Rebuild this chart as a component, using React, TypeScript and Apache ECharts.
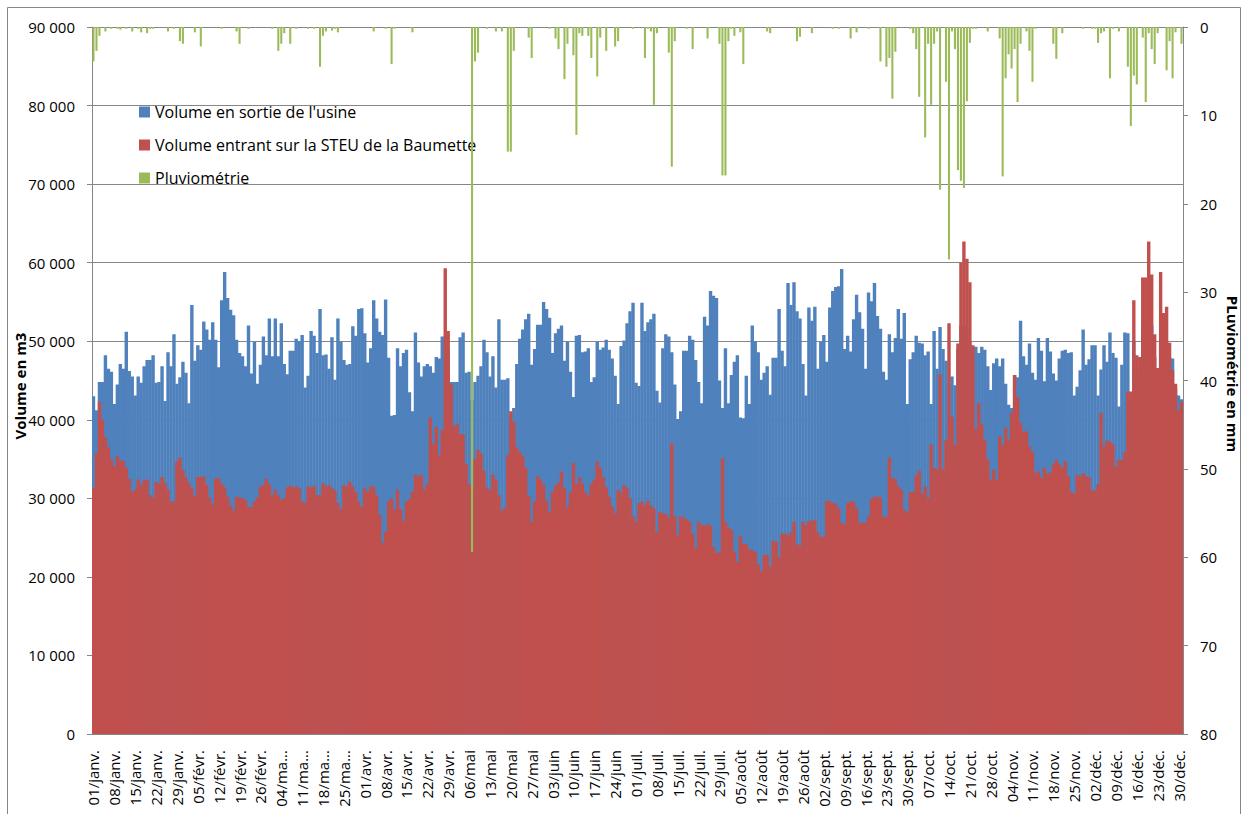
import React, { useEffect, useRef } from 'react';
import * as echarts from 'echarts';

const FONT = "'Open Sans', 'Liberation Sans', sans-serif";

// Year 2012 (leap year): one category per day
const monthNames = ['janv.', 'févr.', 'mars', 'avr.', 'mai', 'juin', 'juil.', 'août', 'sept.', 'oct.', 'nov.', 'déc.'];
const monthLengths = [31, 29, 31, 30, 31, 30, 31, 31, 30, 31, 30, 31];
const categories: string[] = [];
monthLengths.forEach((len, m) => {
  for (let d = 1; d <= len; d++) categories.push(`${String(d).padStart(2, '0')}/${monthNames[m]}`);
});

// Volume en sortie de l'usine (milliers de m3)
const sortieUsine = [
  43.0, 41.2, 44.8, 44.8, 48.2, 46.5, 46.1, 42.0, 44.5, 47.1,
  46.5, 51.2, 46.2, 45.5, 43.1, 45.5, 44.7, 46.8, 47.6, 47.6,
  48.2, 44.7, 44.8, 46.8, 42.4, 48.6, 46.8, 50.9, 44.6, 45.4,
  47.4, 46.0, 42.1, 54.6, 47.5, 49.5, 48.9, 52.5, 51.5, 50.2,
  52.4, 50.2, 46.7, 55.2, 58.8, 55.5, 54.0, 53.3, 50.2, 48.5,
  48.1, 46.8, 52.0, 45.9, 49.9, 44.6, 47.0, 50.6, 48.2, 52.9,
  48.1, 52.9, 48.1, 52.3, 47.1, 45.8, 48.8, 48.8, 50.3, 50.0,
  50.8, 44.1, 45.6, 51.3, 50.7, 48.5, 54.1, 48.2, 48.3, 46.5,
  50.5, 45.1, 52.9, 49.9, 47.6, 47.0, 47.1, 51.9, 50.7, 54.1,
  54.2, 51.0, 47.3, 49.1, 55.2, 52.9, 51.2, 50.8, 55.3, 47.9,
  40.5, 40.6, 49.1, 46.8, 48.5, 48.9, 43.5, 41.1, 51.1, 47.3,
  45.5, 46.8, 47.1, 46.8, 46.0, 48.0, 47.8, 50.6, 48.5, 48.9,
  44.8, 44.8, 44.8, 50.5, 51.1, 46.0, 46.1, 42.5, 44.8, 45.6,
  46.8, 50.2, 48.6, 45.5, 48.1, 44.1, 52.8, 45.1, 45.1, 45.3,
  40.4, 41.5, 47.1, 50.3, 51.5, 52.8, 53.5, 47.0, 49.0, 52.1,
  52.1, 55.0, 54.1, 53.0, 48.5, 51.0, 51.6, 52.0, 47.5, 49.9,
  46.1, 42.9, 50.7, 50.8, 48.6, 48.7, 49.1, 44.8, 45.4, 49.9,
  48.9, 49.2, 50.2, 48.9, 47.8, 45.6, 42.0, 49.4, 50.1, 52.3,
  53.8, 54.9, 44.7, 44.3, 54.9, 51.3, 52.4, 52.8, 53.5, 43.7,
  42.2, 49.1, 50.9, 50.6, 48.6, 44.5, 40.1, 41.1, 48.8, 48.8,
  50.7, 50.2, 47.6, 44.8, 42.1, 53.1, 52.0, 56.4, 55.8, 55.5,
  45.0, 41.5, 49.1, 42.1, 45.7, 47.4, 48.2, 40.3, 40.2, 45.6,
  42.0, 52.0, 50.0, 48.6, 45.1, 46.0, 46.8, 43.2, 47.9, 47.9,
  54.1, 48.8, 46.8, 57.4, 54.6, 57.5, 53.8, 52.9, 47.1, 43.1,
  54.3, 52.6, 54.4, 46.5, 49.9, 50.8, 47.4, 54.3, 56.4, 56.9,
  57.0, 59.2, 49.0, 50.7, 48.7, 52.8, 55.9, 53.7, 51.6, 46.5,
  56.2, 55.1, 57.4, 53.2, 51.6, 46.1, 45.1, 50.9, 48.6, 50.4,
  54.1, 50.3, 53.6, 42.0, 47.7, 48.6, 50.7, 49.8, 49.7, 48.2,
  48.7, 42.0, 51.3, 46.5, 51.8, 49.0, 47.5, 44.5, 45.5, 44.4,
  49.0, 52.0, 52.0, 52.0, 50.0, 49.3, 49.3, 48.5, 49.3, 48.9,
  46.8, 43.8, 47.2, 47.8, 46.8, 47.8, 44.6, 41.9, 41.5, 45.7,
  45.4, 52.6, 48.1, 47.0, 49.7, 46.0, 45.1, 50.4, 48.8, 44.9,
  50.4, 48.7, 45.9, 45.0, 47.8, 48.8, 48.9, 48.5, 48.6, 43.1,
  44.2, 46.3, 51.5, 47.0, 47.7, 49.5, 49.5, 43.1, 46.4, 49.5,
  47.4, 51.1, 48.5, 47.9, 41.7, 47.0, 51.1, 51.0, 42.0, 50.0,
  46.0, 46.0, 52.0, 52.0, 52.0, 52.0, 48.0, 45.0, 50.0, 50.0,
  50.0, 48.0, 47.8, 44.0, 43.1, 42.6,
];

// Volume entrant sur la STEU de la Baumette (milliers de m3)
const entrantSteu = [
  31.3, 35.7, 42.3, 40.0, 37.8, 36.5, 34.9, 34.1, 35.4, 34.8,
  34.8, 33.9, 32.5, 30.8, 31.1, 32.4, 31.7, 32.3, 32.4, 30.4,
  30.1, 32.1, 31.9, 32.7, 32.0, 31.1, 29.6, 29.6, 34.7, 35.2,
  33.6, 32.7, 32.0, 31.3, 30.3, 32.7, 32.7, 32.8, 31.7, 30.1,
  29.2, 32.5, 32.6, 31.9, 31.4, 30.2, 29.1, 28.4, 30.2, 30.1,
  30.0, 29.8, 28.9, 28.9, 29.6, 30.1, 31.5, 31.7, 32.5, 31.8,
  30.4, 31.1, 30.4, 29.8, 30.0, 31.4, 31.6, 31.4, 31.5, 31.3,
  29.6, 29.4, 31.5, 31.4, 31.6, 30.4, 30.4, 31.9, 31.5, 31.7,
  31.3, 31.0, 29.4, 28.6, 31.7, 31.5, 32.1, 31.5, 30.8, 29.6,
  28.9, 31.3, 30.8, 31.5, 31.5, 30.4, 27.9, 24.3, 25.7, 29.6,
  30.0, 28.5, 31.1, 28.6, 27.1, 29.6, 29.9, 30.8, 33.0, 32.8,
  33.0, 31.1, 31.9, 40.3, 36.9, 39.1, 35.5, 38.7, 59.3, 51.3,
  44.5, 39.1, 39.5, 38.2, 38.2, 34.4, 31.8, 31.3, 35.0, 36.2,
  35.7, 33.5, 31.4, 31.0, 33.0, 32.4, 30.4, 28.4, 28.8, 35.5,
  41.1, 39.7, 36.5, 35.9, 35.4, 33.9, 30.3, 27.0, 29.6, 32.8,
  32.4, 31.7, 29.7, 28.2, 30.8, 31.6, 32.0, 33.4, 31.3, 28.9,
  30.7, 34.5, 31.8, 32.7, 31.9, 30.8, 30.4, 31.8, 32.4, 34.7,
  33.9, 32.7, 31.4, 30.2, 29.0, 28.1, 31.1, 30.7, 31.7, 31.3,
  30.0, 27.7, 27.0, 29.4, 29.6, 29.1, 29.7, 29.1, 28.7, 25.7,
  28.3, 28.1, 28.0, 27.6, 37.0, 27.7, 25.3, 27.7, 27.6, 27.3,
  27.0, 25.5, 23.6, 27.0, 26.6, 26.5, 26.7, 26.5, 23.8, 23.0,
  23.1, 35.1, 27.0, 26.3, 26.0, 23.2, 21.9, 25.2, 24.2, 24.2,
  23.5, 23.4, 23.2, 21.6, 20.7, 22.8, 22.8, 21.3, 24.6, 24.5,
  22.5, 25.5, 25.5, 25.3, 25.7, 27.0, 24.2, 24.0, 27.0, 26.6,
  27.1, 27.2, 27.2, 25.7, 25.1, 25.1, 29.7, 29.6, 29.4, 29.3,
  28.7, 26.9, 26.7, 29.4, 29.6, 29.6, 28.7, 26.9, 26.9, 26.9,
  27.7, 29.9, 30.2, 30.2, 30.1, 27.6, 27.7, 35.2, 32.6, 32.5,
  31.5, 31.1, 28.5, 28.2, 30.8, 30.8, 32.9, 33.5, 30.6, 31.5,
  30.1, 36.9, 33.9, 33.7, 45.8, 33.7, 37.4, 52.3, 40.4, 36.8,
  49.7, 60.0, 62.7, 60.5, 57.5, 49.5, 38.8, 42.1, 39.5, 37.4,
  34.9, 32.4, 33.6, 32.3, 37.9, 36.8, 39.0, 37.4, 40.9, 45.7,
  42.9, 39.6, 38.5, 38.5, 36.6, 35.9, 33.2, 33.4, 32.6, 33.9,
  33.1, 33.3, 34.3, 34.9, 34.4, 33.9, 34.7, 32.8, 30.8, 30.6,
  33.0, 32.8, 33.2, 32.8, 32.7, 31.0, 31.0, 31.8, 40.9, 36.6,
  37.4, 37.2, 36.9, 34.0, 34.9, 34.9, 35.9, 43.6, 43.6, 55.2,
  48.2, 48.0, 58.1, 58.1, 62.7, 58.5, 50.9, 46.6, 58.8, 53.6,
  54.4, 49.8, 46.3, 44.6, 41.2, 42.3,
];

// Pluviométrie (mm)
const pluviometrie = [
  3.9, 2.7, 1.0, 0, 0.5, 0, 0.2, 0, 0.2, 0.3,
  0, 0.2, 0, 0.5, 0, 0.2, 0.6, 0, 0.7, 0.2,
  0.2, 0, 0, 0, 0, 0.5, 0, 0.2, 0, 1.6,
  1.9, 0, 0, 0, 0.6, 0, 2.2, 0, 0, 0,
  0, 0, 0, 0.2, 0, 0, 0, 0, 0.5, 1.9,
  0, 0, 0.2, 0, 0, 0, 0, 0, 0, 0,
  0.2, 0, 2.7, 1.9, 0.7, 0, 1.9, 0, 0.2, 0,
  0, 0, 0.2, 0, 0.2, 0, 4.5, 1.0, 0.5, 0,
  0.4, 0.2, 0.6, 0, 0, 0, 0, 0, 0, 0,
  0, 0, 0, 0, 0.5, 0, 0, 0, 0.2, 0,
  4.2, 0.2, 0, 0, 0, 0, 0, 0.6, 0, 0,
  0, 0, 0, 0, 0, 0, 0, 0, 0, 0,
  0, 0, 0, 0, 0, 0, 0, 59.4, 3.9, 2.9,
  0, 0, 0.2, 0, 0, 0.5, 0, 0.5, 0, 14.1,
  14.1, 2.7, 0, 0, 0, 0, 1.2, 3.5, 0, 0,
  0, 0, 0, 0.2, 0, 1.3, 2.5, 0, 5.9, 1.9,
  0, 3.2, 12.2, 0.7, 1.0, 0, 1.0, 3.5, 0, 5.6,
  1.2, 0, 2.7, 0, 0, 2.2, 1.6, 0, 0, 0,
  0, 0.2, 0, 0, 0, 3.5, 0.2, 0.5, 8.8, 0.7,
  0, 0, 0, 2.9, 15.8, 1.6, 0, 0, 0, 0.2,
  0, 2.5, 0, 0, 0, 0, 1.3, 0, 0, 0,
  1.9, 16.8, 16.8, 1.6, 0.2, 1.0, 0, 0.6, 4.2, 0,
  0, 0, 0, 0, 0, 0, 0.5, 0.7, 0, 0,
  0, 0, 0, 0, 0, 0, 1.6, 1.1, 0, 0,
  0, 0.7, 0, 0, 0, 0, 0, 0, 0.2, 0,
  0.2, 0, 0, 0, 1.3, 0, 0.6, 0, 0, 0,
  0.2, 0, 0, 0, 3.9, 0, 4.5, 3.5, 8.1, 2.8,
  0, 0, 0, 0, 0.2, 0.7, 2.5, 7.9, 0, 12.5,
  1.9, 8.8, 1.9, 0.5, 18.4, 0, 6.2, 26.3, 0.5, 2.5,
  16.2, 17.4, 18.2, 8.4, 1.8, 0.2, 0.2, 0, 0, 0,
  0.5, 0, 0, 0, 1.3, 16.9, 5.8, 3.1, 4.7, 2.5,
  8.5, 1.9, 0, 0.5, 2.7, 6.2, 0.2, 0, 0, 0,
  0, 0, 1.9, 3.6, 0, 0.7, 0, 0, 0, 0,
  0, 0, 0.2, 0, 0, 0.2, 0.2, 1.8, 0.7, 0.5,
  0, 5.8, 0.2, 0, 0.5, 0, 0, 4.5, 11.2, 5.5,
  6.5, 0, 1.2, 8.5, 0.7, 2.5, 4.2, 0.7, 0, 0,
  4.9, 1.6, 5.8, 0.6, 0, 1.9,
];

const SERIES_NAMES = ["Volume en sortie de l'usine", 'Volume entrant sur la STEU de la Baumette', 'Pluviométrie'];
const COLORS = ['#4F81BD', '#C0504D', '#9BBB59'];
const AXIS_GREY = '#868686';

export default function App() {
  const ref = useRef<HTMLDivElement>(null);

  useEffect(() => {
    if (!ref.current) return;
    const chart = echarts.init(ref.current, undefined, { renderer: 'svg' });
    const option: any = {
      animation: false,
      backgroundColor: '#ffffff',
      textStyle: { fontFamily: FONT },
      grid: { left: 92, top: 27, width: 1091, height: 707, containLabel: false },
      legend: {
        data: SERIES_NAMES,
        orient: 'vertical',
        left: 134,
        top: 97,
        padding: 5,
        icon: 'rect',
        itemWidth: 11,
        itemHeight: 11,
        itemGap: 13,
        selectedMode: false,
        textStyle: { fontFamily: FONT, fontSize: 16, color: '#000', lineHeight: 20 },
      },
      xAxis: [
        {
          type: 'category',
          data: categories,
          boundaryGap: true,
          axisLine: { lineStyle: { color: AXIS_GREY } },
          axisTick: { interval: 6, length: 5, lineStyle: { color: AXIS_GREY } },
          axisLabel: {
            interval: 6,
            rotate: 90,
            margin: 16,
            fontSize: 15,
            color: '#000',
            fontFamily: FONT,
            formatter: (v: string) => v.replace('/mars', '/ma...'),
          },
          splitLine: { show: false },
        },
        { type: 'category', data: categories, show: false, boundaryGap: true },
      ],
      yAxis: [
        {
          type: 'value',
          position: 'left',
          min: 0,
          max: 90,
          interval: 10,
          axisLine: { show: true, lineStyle: { color: AXIS_GREY } },
          axisTick: { show: true, length: 5, lineStyle: { color: AXIS_GREY } },
          axisLabel: {
            margin: 17,
            fontSize: 15,
            color: '#000',
            fontFamily: FONT,
            formatter: (v: number) => (v === 0 ? '0' : `${v} 000`),
          },
          splitLine: { show: true, lineStyle: { color: AXIS_GREY, width: 1 } },
        },
        {
          type: 'value',
          position: 'right',
          inverse: true,
          min: 0,
          max: 80,
          interval: 10,
          axisLine: { show: true, lineStyle: { color: AXIS_GREY } },
          axisTick: { show: true, length: 5, lineStyle: { color: AXIS_GREY } },
          axisLabel: { margin: 17, fontSize: 15, color: '#000', fontFamily: FONT },
          splitLine: { show: false },
        },
      ],
      series: [
        {
          name: SERIES_NAMES[0],
          type: 'bar',
          xAxisIndex: 0,
          yAxisIndex: 0,
          data: sortieUsine,
          itemStyle: { color: COLORS[0] },
          barWidth: 3.4,
          barGap: '-100%',
          z: 2,
        },
        {
          name: SERIES_NAMES[1],
          type: 'bar',
          xAxisIndex: 0,
          yAxisIndex: 0,
          data: entrantSteu,
          itemStyle: { color: COLORS[1] },
          barWidth: 3.4,
          barGap: '-100%',
          z: 3,
        },
        {
          name: SERIES_NAMES[2],
          type: 'bar',
          xAxisIndex: 1,
          yAxisIndex: 1,
          data: pluviometrie,
          itemStyle: { color: COLORS[2] },
          barWidth: '70%',
          z: 4,
        },
      ],
      graphic: [
        {
          type: 'rect',
          silent: true,
          z: -10,
          shape: { x: 7.5, y: 7.5, width: 1233, height: 850 },
          style: { fill: 'none', stroke: AXIS_GREY, lineWidth: 1 },
        },
        {
          type: 'text',
          x: 20,
          y: 386,
          rotation: Math.PI / 2,
          style: {
            text: 'Volume en m3',
            fontFamily: FONT,
            fontSize: 15,
            fontWeight: 'bold',
            fill: '#000',
            align: 'center',
            verticalAlign: 'middle',
          },
        },
        {
          type: 'text',
          x: 1233,
          y: 374,
          rotation: -Math.PI / 2,
          style: {
            text: 'PLuviométrie en mm',
            fontFamily: FONT,
            fontSize: 15,
            fontWeight: 'bold',
            fill: '#000',
            align: 'center',
            verticalAlign: 'middle',
          },
        },
      ],
    };
    chart.setOption(option);
    return () => chart.dispose();
  }, []);

  return (
    <div
      ref={ref}
      style={{ position: 'fixed', left: 0, top: 0, width: 1248, height: 814, background: '#fff' }}
    />
  );
}
